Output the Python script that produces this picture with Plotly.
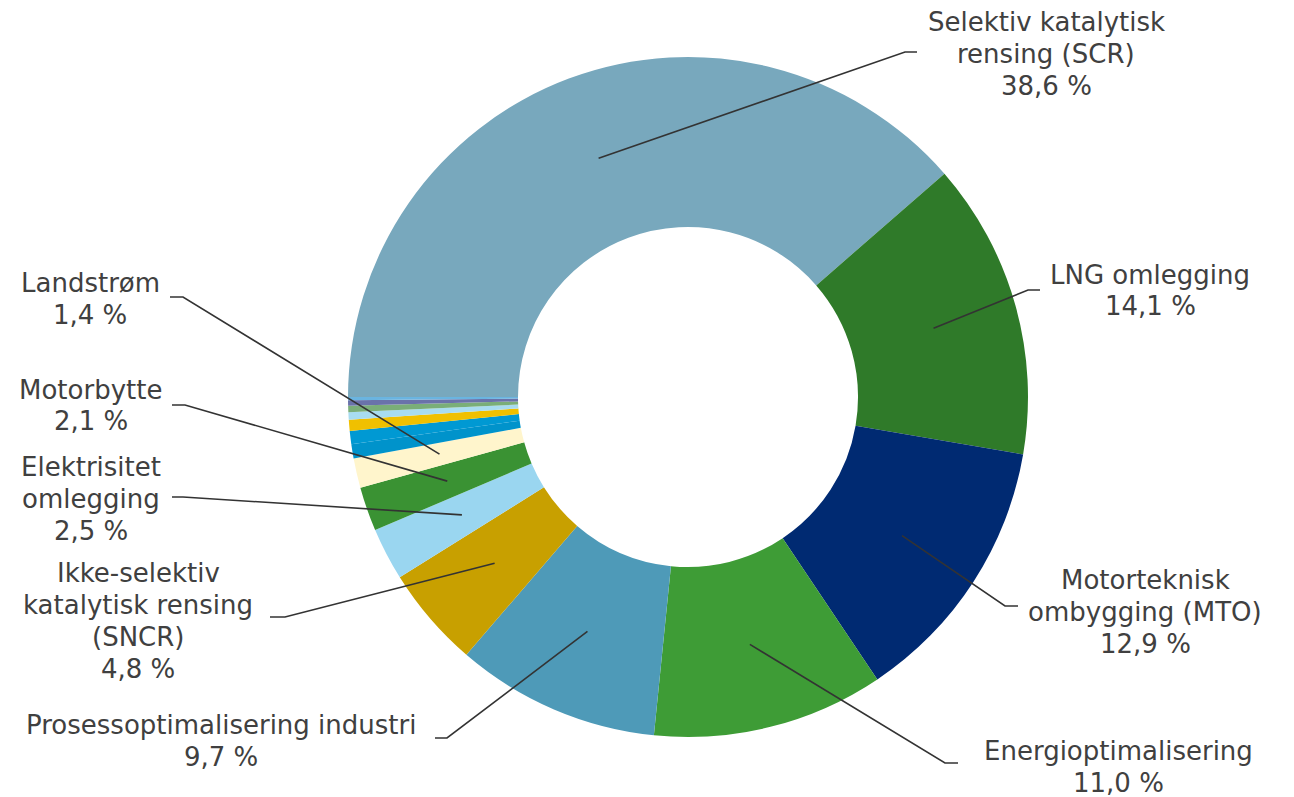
import math
import plotly.graph_objects as go

# ---- data ----
labels = [
    "Selektiv katalytisk rensing (SCR)",
    "LNG omlegging",
    "Motorteknisk ombygging (MTO)",
    "Energioptimalisering",
    "Prosessoptimalisering industri",
    "Ikke-selektiv katalytisk rensing (SNCR)",
    "Elektrisitet omlegging",
    "Motorbytte",
    "Landstrøm",
    "Øvrig 1",
    "Øvrig 2",
    "Øvrig 3",
    "Øvrig 4",
    "Øvrig 5",
    "Øvrig 6",
    "Øvrig 7",
]
values = [38.6, 14.1, 12.9, 11.0, 9.7, 4.8, 2.5, 2.1, 1.4,
          0.68, 0.62, 0.53, 0.36, 0.30, 0.26, 0.15]
label_lines = [
    ["Selektiv katalytisk", "rensing (SCR)", "38,6 %"],
    ["LNG omlegging", "14,1 %"],
    ["Motorteknisk", "ombygging (MTO)", "12,9 %"],
    ["Energioptimalisering", "11,0 %"],
    ["Prosessoptimalisering industri", "9,7 %"],
    ["Ikke-selektiv", "katalytisk rensing", "(SNCR)", "4,8 %"],
    ["Elektrisitet", "omlegging", "2,5 %"],
    ["Motorbytte", "2,1 %"],
    ["Landstrøm", "1,4 %"],
]
colors = ["#78A8BD", "#2F7A29", "#002A72", "#3E9C36", "#4E9AB8", "#C8A000",
          "#9AD6F0", "#3A9233", "#FFF5CC", "#0093CB", "#0099D3", "#F0C000",
          "#A8DCF0", "#7AAE78", "#6A72AA", "#6AB4E0"]

# ---- layout constants (pixels) ----
W, H = 1294, 797
CX, CY, R = 688, 397, 340
HOLE = 0.5
ROT = 270
LINE_H = 32
FONT_SIZE = 26
# label block centers and elbow / end points of leader lines
label_pos = [(1046, 54), (1150, 290.5), (1145, 612), (1118, 767), (221, 741),
             (138, 620.5), (91, 499), (91, 405.5), (90, 299)]
elbows = [(905, 52), (1028, 290), (1005, 606), (945, 763), (447, 738),
          (285, 617), (183, 497), (185, 405), (183, 297)]
ends = [(917, 52), (1040, 290), (1018, 606), (958, 763), (435, 738),
        (270, 617), (172, 497), (172, 405), (170, 297)]


def px(x):
    return x / W


def py(y):
    return 1 - y / H


fig = go.Figure(go.Pie(
    labels=labels, values=values, sort=False, direction="clockwise",
    rotation=ROT, hole=HOLE, textinfo="none", showlegend=False,
    marker=dict(colors=colors, line=dict(width=0)),
    domain=dict(x=[px(CX - R), px(CX + R)], y=[py(CY + R), py(CY - R)]),
))

total = sum(values)
cum = 0.0
shapes = []
annotations = []
for i, v in enumerate(values):
    mid = ROT + (cum + v / 2) / total * 360
    cum += v
    if i >= len(label_lines):
        continue
    a = math.radians(mid)
    rr = 0.75 * R
    ax = CX + rr * math.sin(a)
    ay = CY - rr * math.cos(a)
    ex, ey = elbows[i]
    tx, ty = ends[i]
    shapes.append(dict(
        type="path", xref="paper", yref="paper",
        path=f"M {px(ax)} {py(ay)} L {px(ex)} {py(ey)} L {px(tx)} {py(ty)}",
        line=dict(color="#333333", width=1.6),
    ))
    lx, ly = label_pos[i]
    n = len(label_lines[i])
    for j, line in enumerate(label_lines[i]):
        yy = ly + (j - (n - 1) / 2) * LINE_H
        annotations.append(dict(
            text=line, x=px(lx), y=py(yy), xref="paper", yref="paper",
            xanchor="center", yanchor="middle", align="center", showarrow=False,
            font=dict(family="DejaVu Sans", size=FONT_SIZE, color="#404040"),
        ))

fig.update_layout(
    width=W, height=H, margin=dict(l=0, r=0, t=0, b=0),
    paper_bgcolor="white", plot_bgcolor="white",
    shapes=shapes, annotations=annotations,
)
fig.write_html("out.html")
